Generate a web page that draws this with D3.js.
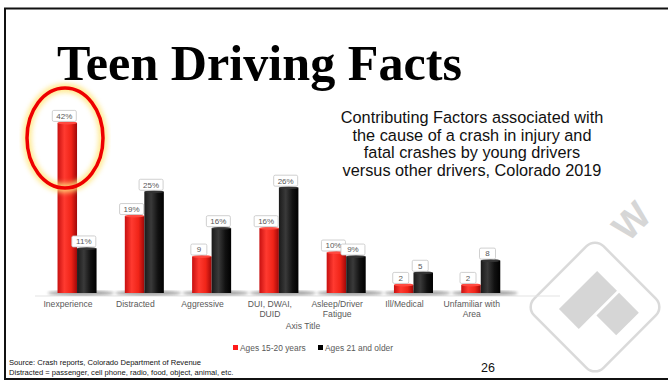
<!DOCTYPE html>
<html>
<head>
<meta charset="utf-8">
<script src="https://cdn.jsdelivr.net/npm/d3@7"></script>
<style>
  body { margin: 0; background: #fff; }
  svg text { font-family: "Liberation Sans", Arial, sans-serif; }
</style>
</head>
<body>
<div id="chart"></div>
<script>
// data
var categories = ["Inexperience", "Distracted", "Aggressive", "DUI, DWAI,\nDUID",
    "Asleep/Driver\nFatigue", "Ill/Medical", "Unfamiliar with\nArea"];
var series = ["Ages 15-20 years", "Ages 21 and older"];
var teenValues = [42, 19, 9, 16, 10, 2, 2];
var olderValues = [11, 25, 16, 26, 9, 5, 8];
var teenLabels = ["42%", "19%", "9", "16%", "10%", "2", "2"];
var olderLabels = ["11%", "25%", "16%", "26%", "9%", "5", "8"];
var subtitleLines = ["Contributing Factors associated with", "the cause of a crash in injury and",
    "fatal crashes by young drivers", "versus other drivers, Colorado 2019"];

var W = 668, H = 382;
var svg = d3.select("#chart").append("svg")
    .attr("width", W)
    .attr("height", H);

var defs = svg.append("defs");
function cylGrad(id, stops) {
    var g = defs.append("linearGradient").attr("id", id)
        .attr("x1", "0%").attr("x2", "100%").attr("y1", "0%").attr("y2", "0%");
    stops.forEach(function (s) {
        g.append("stop").attr("offset", s[0]).attr("stop-color", s[1]);
    });
}
cylGrad("gRed", [["0%", "#c81010"], ["35%", "#ff3a30"], ["70%", "#f02418"], ["100%", "#a00808"]]);
cylGrad("gBlack", [["0%", "#1a1a1a"], ["35%", "#3a3a3a"], ["70%", "#111"], ["100%", "#000"]]);
defs.append("filter").attr("id", "blur").append("feGaussianBlur").attr("stdDeviation", 2.5);
defs.append("filter").attr("id", "blur2").append("feGaussianBlur").attr("stdDeviation", 1.5);

// slide border
svg.append("rect")
    .attr("x", 5).attr("y", 8.5)
    .attr("width", 700).attr("height", 370.5)
    .attr("fill", "none").attr("stroke", "#111").attr("stroke-width", 2);

// watermark
var wm = svg.append("g").attr("transform", "translate(595,307) rotate(-45)");
wm.append("rect")
    .attr("x", -49).attr("y", -49).attr("width", 98).attr("height", 98)
    .attr("rx", 12).attr("fill", "none").attr("stroke", "#dadada").attr("stroke-width", 2.5);
wm.append("rect").attr("x", -27).attr("y", -24).attr("width", 54).attr("height", 28).attr("fill", "#d6d6d6");
wm.append("rect").attr("x", -5).attr("y", 7).attr("width", 32).attr("height", 28).attr("fill", "#d6d6d6");
svg.append("text")
    .attr("transform", "translate(628,243) rotate(-45)")
    .attr("font-size", 38).attr("font-weight", "bold")
    .attr("fill", "#d6d6d6")
    .text("W");

// title
svg.append("text")
    .attr("x", 57).attr("y", 80)
    .style("font-family", "'Liberation Serif', 'Times New Roman', serif")
    .attr("font-weight", "bold").attr("font-size", 50)
    .attr("fill", "#000")
    .attr("textLength", 405).attr("lengthAdjust", "spacingAndGlyphs")
    .text("Teen Driving Facts");

// subtitle
svg.append("g").selectAll("text")
    .data(subtitleLines)
    .enter().append("text")
    .attr("x", 472)
    .attr("y", function (d, i) { return 123 + i * 17.5; })
    .attr("text-anchor", "middle")
    .attr("font-size", 16.3)
    .attr("fill", "#111")
    .text(function (d) { return d; });

// scales
var baseY = 293;
var x0 = d3.scaleBand()
    .domain(categories)
    .range([43.4, 514.4])
    .paddingInner(0.42)
    .paddingOuter(0.21);
var x1 = d3.scaleBand()
    .domain(series)
    .range([0, x0.bandwidth()]);
var y = d3.scaleLinear()
    .domain([0, 45])
    .range([baseY, baseY - 45 * 4.05]);
var color = d3.scaleOrdinal().domain(series).range(["url(#gRed)", "url(#gBlack)"]);
var swatch = d3.scaleOrdinal().domain(series).range(["#ff1a1a", "#000"]);

var rows = categories.map(function (c, i) {
    return [
        { cat: c, s: series[0], v: teenValues[i], label: teenLabels[i] },
        { cat: c, s: series[1], v: olderValues[i], label: olderLabels[i] }
    ];
});

// axis line
svg.append("line")
    .attr("x1", 35).attr("x2", 560)
    .attr("y1", baseY + 3).attr("y2", baseY + 3)
    .attr("stroke", "#e3e3e3").attr("stroke-width", 1);

// base shadows
svg.append("g").selectAll("ellipse")
    .data(categories)
    .enter().append("ellipse")
    .attr("cx", function (d) { return x0(d) + x0.bandwidth() * 0.6; })
    .attr("cy", baseY)
    .attr("rx", x0.bandwidth() * 0.85)
    .attr("ry", 2.5)
    .attr("fill", "#555").attr("opacity", 0.55)
    .attr("filter", "url(#blur2)");

// bars
var groups = svg.append("g").selectAll("g")
    .data(rows)
    .enter().append("g")
    .attr("transform", function (d) { return "translate(" + x0(d[0].cat) + ",0)"; });

groups.selectAll("rect")
    .data(function (d) { return d; })
    .enter().append("rect")
    .attr("x", function (d) { return x1(d.s); })
    .attr("y", function (d) { return y(d.v); })
    .attr("width", x1.bandwidth())
    .attr("height", function (d) { return baseY - y(d.v); })
    .attr("fill", function (d) { return color(d.s); });

// bar top caps
groups.selectAll("ellipse")
    .data(function (d) { return d; })
    .enter().append("ellipse")
    .attr("cx", function (d) { return x1(d.s) + x1.bandwidth() / 2; })
    .attr("cy", function (d) { return y(d.v); })
    .attr("rx", x1.bandwidth() / 2)
    .attr("ry", 1.5)
    .attr("fill", function (d) { return d.s === series[0] ? "#ff4a40" : "#333"; });

// data labels
var lab = groups.selectAll("g.lab")
    .data(function (d) { return d; })
    .enter().append("g")
    .attr("class", "lab")
    .attr("transform", function (d) {
        return "translate(" + (x1(d.s) + x1.bandwidth() / 2 - 3) + "," + (y(d.v) - 7) + ")";
    });
lab.append("rect")
    .attr("x", function (d) { return d.label.length > 1 ? -12 : -8; })
    .attr("width", function (d) { return d.label.length > 1 ? 24 : 16; })
    .attr("y", -5.5).attr("height", 11)
    .attr("rx", 1.5)
    .attr("fill", "#fff").attr("stroke", "#c4c4c4").attr("stroke-width", 0.8);
lab.append("text")
    .attr("text-anchor", "middle")
    .attr("dy", "0.35em")
    .attr("font-size", 8)
    .attr("fill", "#595959")
    .text(function (d) { return d.label; });

// category labels via axis (shifted left like the 3D projection)
var xAxis = svg.append("g")
    .attr("transform", "translate(-9," + (baseY + 3) + ")")
    .call(d3.axisBottom(x0).tickSize(0).tickPadding(0));
xAxis.select(".domain").remove();
xAxis.selectAll(".tick text").each(function (d) {
    var t = d3.select(this).text("");
    t.attr("y", 11).attr("dy", null)
        .attr("font-size", 8.6).attr("fill", "#595959")
        .style("font-family", "'Liberation Sans', Arial, sans-serif");
    d.split("\n").forEach(function (line, i) {
        t.append("tspan").attr("x", 0).attr("dy", i === 0 ? 0 : 10).text(line);
    });
});

svg.append("text")
    .attr("x", 303).attr("y", 329)
    .attr("text-anchor", "middle")
    .attr("font-size", 8.6).attr("fill", "#595959")
    .text("Axis Title");

// legend
var legend = svg.append("g").selectAll("g")
    .data(series)
    .enter().append("g")
    .attr("transform", function (d, i) { return "translate(" + (233 + i * 85) + ",345)"; });
legend.append("rect")
    .attr("width", 5).attr("height", 5)
    .attr("fill", function (d) { return swatch(d); });
legend.append("text")
    .attr("x", 7).attr("y", 5.5)
    .attr("font-size", 8.4).attr("fill", "#595959")
    .text(function (d) { return d; });

// source note and slide number
svg.append("text")
    .attr("x", 9).attr("y", 365)
    .attr("font-size", 7.6).attr("fill", "#111")
    .text("Source: Crash reports, Colorado Department of Revenue");
svg.append("text")
    .attr("x", 9).attr("y", 375)
    .attr("font-size", 7.6).attr("fill", "#111")
    .text("Distracted = passenger, cell phone, radio, food, object, animal, etc.");
svg.append("text")
    .attr("x", 481).attr("y", 372)
    .attr("font-size", 12.5).attr("fill", "#111")
    .text("26");

// highlight ellipse
svg.append("ellipse")
    .attr("cx", 65).attr("cy", 138).attr("rx", 38).attr("ry", 50)
    .attr("fill", "none").attr("stroke", "#ffe680").attr("stroke-width", 9)
    .attr("opacity", 0.85).attr("filter", "url(#blur)");
svg.append("ellipse")
    .attr("cx", 65).attr("cy", 138).attr("rx", 38).attr("ry", 50)
    .attr("fill", "none").attr("stroke", "#ee0000").attr("stroke-width", 3.5);
</script>
</body>
</html>
